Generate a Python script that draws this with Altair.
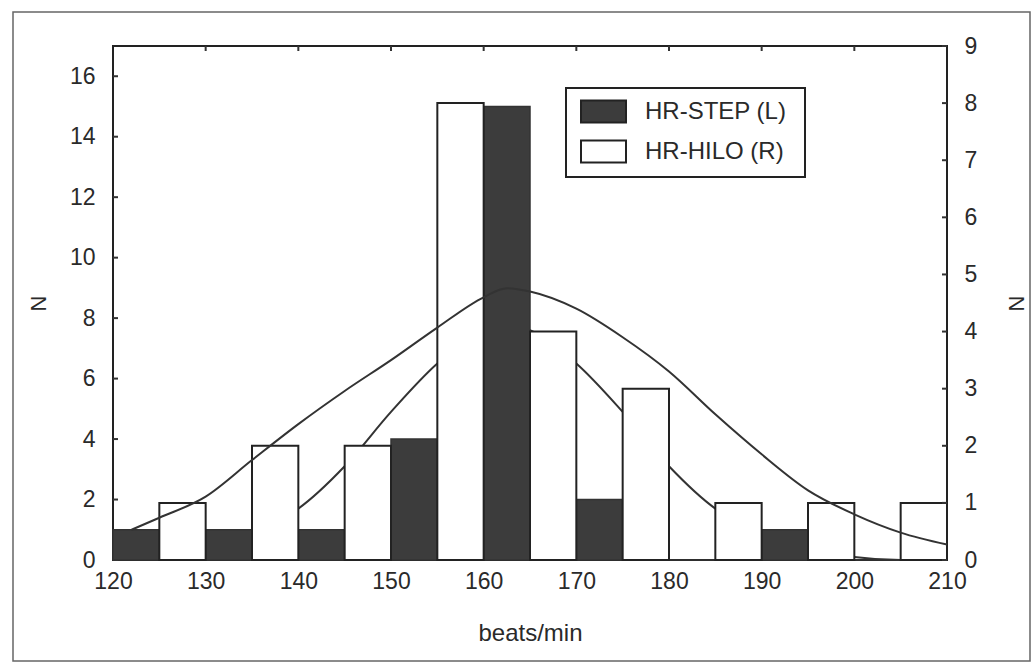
import altair as alt
import pandas as pd

# ---- data ----
step_bins = [120, 130, 140, 150, 160, 170, 180, 190, 200]
step_counts = [1, 1, 1, 4, 15, 2, 0, 1, 0]          # left axis (HR-STEP)
hilo_bins = [125, 135, 145, 155, 165, 175, 185, 195, 205]
hilo_counts = [1, 2, 2, 8, 4, 3, 1, 1, 1]           # right axis (HR-HILO)

# fitted curves
step_curve_x = [120, 125, 130, 135, 140, 145, 150, 155, 160, 162.5, 165, 170, 175, 180, 185, 190, 195, 200, 205, 210]
step_curve_y = [0.1, 0.25, 0.5, 0.9, 1.7, 3.1, 4.9, 6.5, 7.6, 7.8, 7.6, 6.5, 4.9, 3.1, 1.7, 0.9, 0.4, 0.1, 0.0, 0.0]
hilo_curve_x = [122, 125, 130, 135, 140, 145, 150, 155, 160, 162.5, 165, 170, 175, 180, 185, 190, 195, 200, 205, 210]
hilo_curve_y = [0.53, 0.74, 1.11, 1.75, 2.38, 2.96, 3.5, 4.07, 4.6, 4.76, 4.7, 4.4, 3.9, 3.3, 2.55, 1.85, 1.22, 0.8, 0.48, 0.27]

left_ticks = [0, 2, 4, 6, 8, 10, 12, 14, 16]
right_ticks = [0, 1, 2, 3, 4, 5, 6, 7, 8, 9]
x_ticks = [120, 130, 140, 150, 160, 170, 180, 190, 200, 210]
series = ["HR-STEP (L)", "HR-HILO (R)"]

W, H = 834, 514
FONT = "Liberation Sans"
INK = "#2a2a2a"
DARK = "#3c3c3c"
BIN_HALF = 5

step_df = pd.DataFrame({"x": step_bins, "n": step_counts, "series": series[0]})
step_df["x2"] = step_df["x"] + BIN_HALF
hilo_df = pd.DataFrame({"x": hilo_bins, "n": hilo_counts, "series": series[1]})
hilo_df["x2"] = hilo_df["x"] + BIN_HALF
step_curve = pd.DataFrame({"x": step_curve_x, "y": step_curve_y})
hilo_curve = pd.DataFrame({"x": hilo_curve_x, "y": hilo_curve_y})

xscale = alt.Scale(domain=[120, 210], nice=False, zero=False)
lscale = alt.Scale(domain=[0, 17], nice=False)
rscale = alt.Scale(domain=[0, 9], nice=False)
cscale = alt.Scale(domain=series, range=[DARK, "white"])

xaxis = alt.Axis(values=x_ticks, title="beats/min", ticks=False, domain=False, grid=False, labelFlush=False,
                 labelFontSize=23, labelPadding=10, titleFontSize=24, titlePadding=28,
                 labelFont=FONT, titleFont=FONT, labelColor=INK, titleColor=INK, titleFontWeight="normal")
laxis = alt.Axis(orient="left", values=left_ticks, title="N", ticks=False, domain=False, grid=False,
                 labelFlush=False,
                 labelFontSize=23, labelPadding=18, titleFontSize=22, titlePadding=19,
                 labelFont=FONT, titleFont=FONT, labelColor=INK, titleColor=INK,
                 titleFontWeight="normal")
raxis = alt.Axis(orient="right", values=right_ticks, title="N", ticks=False, domain=False, grid=False,
                 labelFlush=False,
                 labelFontSize=23, labelPadding=17, titleFontSize=22, titlePadding=52, titleAngle=270,
                 labelFont=FONT, titleFont=FONT, labelColor=INK, titleColor=INK,
                 titleFontWeight="normal")

step_line = alt.Chart(step_curve).mark_line(interpolate="monotone", stroke="#333", strokeWidth=2).encode(
    x=alt.X("x:Q", scale=xscale, axis=xaxis),
    y=alt.Y("y:Q", scale=lscale, axis=None),
)
step_bars = alt.Chart(step_df).mark_rect(stroke="#333", strokeWidth=1.5).encode(
    x=alt.X("x:Q", scale=xscale, axis=xaxis),
    x2="x2:Q",
    y=alt.Y("n:Q", scale=lscale, axis=laxis),
    y2=alt.datum(0),
    color=alt.Color("series:N", scale=cscale, title=None),
)
hilo_bars = alt.Chart(hilo_df).mark_rect(stroke="#222", strokeWidth=2).encode(
    x=alt.X("x:Q", scale=xscale, axis=xaxis),
    x2="x2:Q",
    y=alt.Y("n:Q", scale=rscale, axis=raxis),
    y2=alt.datum(0),
    color=alt.Color("series:N", scale=cscale, title=None),
)
hilo_line = alt.Chart(hilo_curve).mark_line(interpolate="monotone", stroke="#333", strokeWidth=2).encode(
    x=alt.X("x:Q", scale=xscale, axis=xaxis),
    y=alt.Y("y:Q", scale=rscale, axis=None),
)
ltick_df = pd.DataFrame({"t": left_ticks})
left_tick_marks = alt.Chart(ltick_df).mark_rule(stroke="#333", strokeWidth=2).encode(
    y=alt.Y("t:Q", scale=lscale, axis=None), x=alt.value(0), x2=alt.value(5))
rtick_df = pd.DataFrame({"t": right_ticks})
right_tick_marks = alt.Chart(rtick_df).mark_rule(stroke="#333", strokeWidth=2).encode(
    y=alt.Y("t:Q", scale=rscale, axis=None), x=alt.value(W - 5), x2=alt.value(W))
xtick_df = pd.DataFrame({"t": x_ticks[1:-1]})
top_tick_marks = alt.Chart(xtick_df).mark_rule(stroke="#333", strokeWidth=2).encode(
    x=alt.X("t:Q", scale=xscale, axis=xaxis), y=alt.value(0), y2=alt.value(5))

# decorations: outer figure frame and legend box
deco = pd.DataFrame({"a": [0]})
frame = alt.Chart(deco).mark_rect(fill=None, stroke="#666", strokeWidth=1.5, clip=False).encode(
    x=alt.value(-100), x2=alt.value(917), y=alt.value(-34), y2=alt.value(615))
legend_box = alt.Chart(deco).mark_rect(fill="white", stroke="#222", strokeWidth=2).encode(
    x=alt.value(453), x2=alt.value(692), y=alt.value(42), y2=alt.value(131))

chart = alt.layer(
    step_line, step_bars, hilo_bars, hilo_line, left_tick_marks, right_tick_marks, top_tick_marks,
    frame, legend_box
).resolve_scale(y="independent").properties(
    width=W, height=H,
    autosize=alt.AutoSizeParams(type="none"),
    padding={"left": 113, "top": 46, "right": 86, "bottom": 107},
    background="white",
).configure_view(stroke="#222", strokeWidth=2).configure_legend(
    orient="none", legendX=467, legendY=42,
    padding=0, labelFontSize=24, labelFont=FONT, labelColor=INK, labelOffset=18,
    symbolType="M-1,-0.49H1V0.49H-1Z", symbolSize=2025,
    symbolStrokeColor="#222", symbolStrokeWidth=2, rowPadding=1,
)

chart.save("out.html", embed_options={"renderer": "svg", "actions": False})
